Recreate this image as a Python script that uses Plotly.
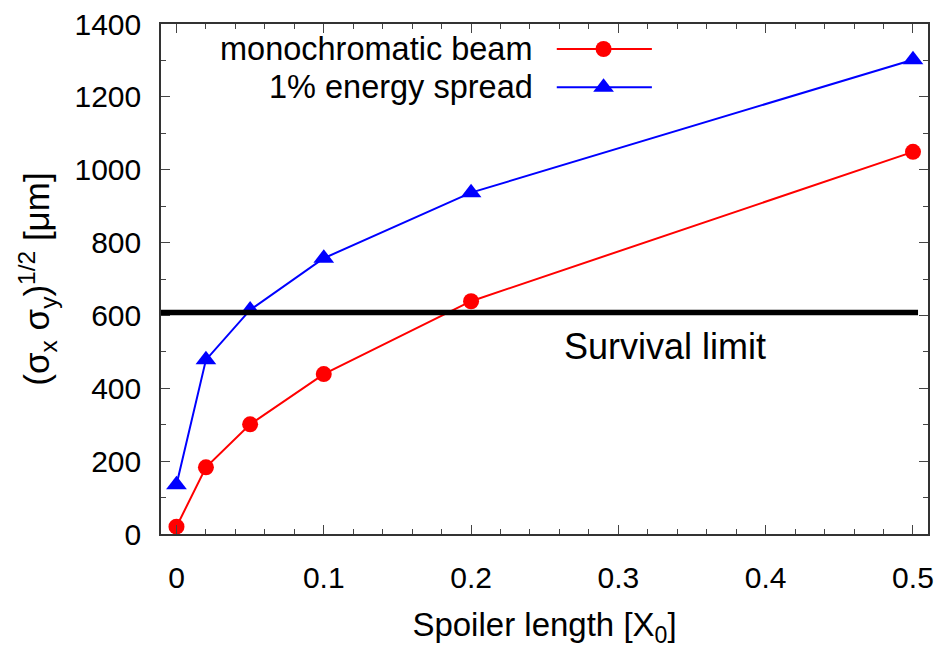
import plotly.graph_objects as go

# ---- data ----
spoiler_length = [0.0, 0.02, 0.05, 0.1, 0.2, 0.5]
mono_beam = [20, 183, 301, 439, 639, 1049]
energy_spread = [135, 478, 615, 757, 937, 1302]
survival_limit = 608
series_names = ["monochromatic beam", "1% energy spread"]
x_ticks = [0, 0.1, 0.2, 0.3, 0.4, 0.5]
x_ticklabels = ["0", "0.1", "0.2", "0.3", "0.4", "0.5"]
y_ticks = [0, 200, 400, 600, 800, 1000, 1200, 1400]

FONT = "Liberation Sans, Arial, Helvetica, sans-serif"
RED = "#ff0000"
BLUE = "#0000ff"

fig = go.Figure()

fig.add_trace(go.Scatter(
    x=spoiler_length, y=mono_beam, mode="lines+markers",
    line=dict(color=RED, width=2),
    marker=dict(symbol="circle", size=16, color=RED),
    showlegend=False, cliponaxis=False))
fig.add_trace(go.Scatter(
    x=spoiler_length, y=energy_spread, mode="lines+markers",
    line=dict(color=BLUE, width=2),
    marker=dict(symbol="triangle-up", size=18, color=BLUE),
    showlegend=False, cliponaxis=False))

# survival limit line
fig.add_shape(type="line", xref="paper", yref="y",
              x0=0, x1=0.987, y0=survival_limit, y1=survival_limit,
              line=dict(color="black", width=5.5))
fig.add_annotation(text="Survival limit", xref="paper", yref="paper",
                   x=0.5225, y=0.367, xanchor="left", yanchor="middle",
                   showarrow=False, font=dict(family=FONT, size=36, color="black"))

# gnuplot-style legend (text left, key right), on an overlay axis 0..1
key_rows = [0.951, 0.876]
key_x0, key_x1, key_xm = 0.516, 0.640, 0.577
for name, col, sym, sz, ky in [
        (series_names[0], RED, "circle", 16, key_rows[0]),
        (series_names[1], BLUE, "triangle-up", 18, key_rows[1])]:
    fig.add_trace(go.Scatter(
        x=[key_x0, key_x1], y=[ky, ky], mode="lines",
        line=dict(color=col, width=2), xaxis="x2", yaxis="y2",
        showlegend=False, hoverinfo="skip", cliponaxis=False))
    fig.add_trace(go.Scatter(
        x=[key_xm], y=[ky], mode="markers",
        marker=dict(symbol=sym, size=sz, color=col), xaxis="x2", yaxis="y2",
        showlegend=False, hoverinfo="skip", cliponaxis=False))
    fig.add_annotation(text=name, xref="paper", yref="paper",
                       x=0.487, y=ky, xanchor="right", yanchor="middle",
                       showarrow=False, font=dict(family=FONT, size=32.5, color="black"))

axis_common = dict(
    showgrid=False, zeroline=False, showline=True, linecolor="#333333", linewidth=1.5,
    mirror="allticks", ticks="inside", ticklen=9, tickwidth=1.2, tickcolor="#444444",
    tickfont=dict(family=FONT, size=30, color="black"), automargin=False,
)

fig.update_layout(
    width=946, height=648,
    margin=dict(l=161, r=18, t=24, b=114),
    paper_bgcolor="white", plot_bgcolor="white",
    xaxis=dict(range=[-0.0105, 0.5102], tickvals=x_ticks, ticktext=x_ticklabels,
               minor=dict(dtick=0.02, ticks="inside", ticklen=5, tickcolor="#444444", tick0=0),
               ticklabelstandoff=16,
               title=dict(text="Spoiler length [X<sub>0</sub>]", standoff=22,
                          font=dict(family=FONT, size=33, color="black")),
               **axis_common),
    yaxis=dict(range=[0, 1400], tickvals=y_ticks,
               minor=dict(dtick=100, ticks="inside", ticklen=5, tickcolor="#444444", tick0=0),
               ticklabelstandoff=12,
               title=dict(text="(σ<sub>x</sub> σ<sub>y</sub>)<sup>1/2</sup> [μm]", standoff=14,
                          font=dict(family=FONT, size=35, color="black")),
               **axis_common),
    xaxis2=dict(overlaying="x", range=[0, 1], visible=False),
    yaxis2=dict(overlaying="y", range=[0, 1], visible=False),
)

fig.write_html("out.html")
